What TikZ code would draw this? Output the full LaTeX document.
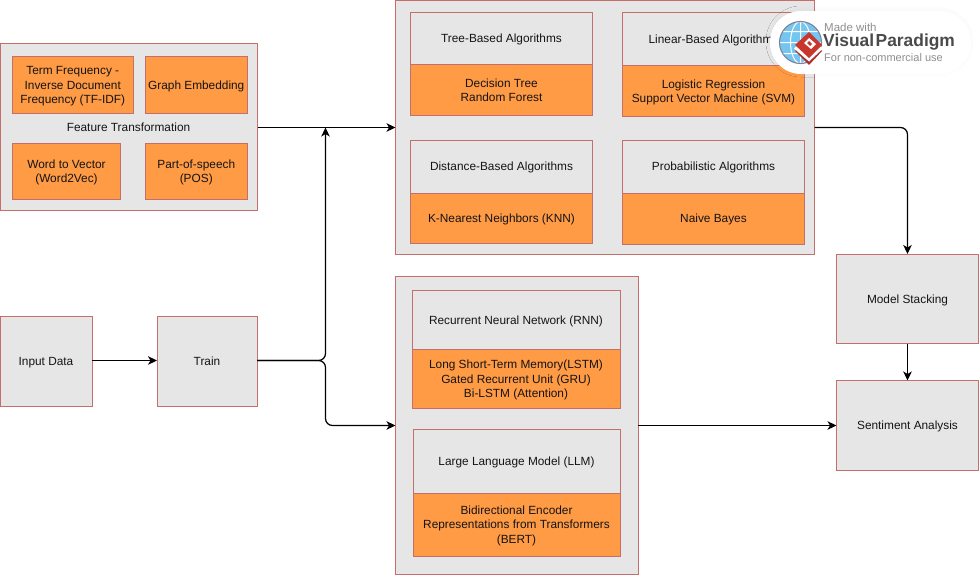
\documentclass[tikz,border=0pt]{standalone}
\usepackage{fontspec}
\setmainfont{Liberation Sans}
\usetikzlibrary{arrows.meta,shadows.blur}
\definecolor{edgered}{HTML}{C46F6B}
\definecolor{fillgrey}{HTML}{E6E6E6}
\definecolor{fillorange}{HTML}{FF9A45}
\definecolor{wmgrey}{HTML}{8F8F8F}
\definecolor{wmdark}{HTML}{4A4A4A}
\definecolor{wmred}{HTML}{C8372D}
\definecolor{wmblue}{HTML}{74C6F0}
\tikzset{
  x=1pt,y=-1pt,
  base/.style={draw=edgered,line width=1pt,anchor=north west,inner sep=0pt,outer sep=0pt,align=center,font=\fontsize{11.85}{14.6}\selectfont,text=black!92},
  greybox/.style={base,fill=fillgrey},
  orangebox/.style={base,fill=fillorange},
  link/.style={draw=black,line width=1.25pt,rounded corners=7pt,-{Stealth[length=9pt,width=8.5pt,inset=2.5pt]}},
  plainlabel/.style={inner sep=0pt,font=\fontsize{11.85}{14.6}\selectfont,text=black!92},
}
\newcommand{\st}{\rule[-2.5pt]{0pt}{13.6pt}}
\newcommand{\bx}[7]{\node[#1,minimum width=#4pt-#3pt,minimum height=#6pt-#5pt] (#2) at (#3,#5) {\st#7\st};}
\begin{document}
\begin{tikzpicture}
\useasboundingbox (0,0) rectangle (980,576);
% groups
\bx{greybox}{feat}{0}{257.5}{43.5}{210.5}{}
\bx{greybox}{classic}{395.5}{814.5}{0}{254}{}
\bx{greybox}{deep}{395.5}{638}{276.5}{574}{}
% feature
\bx{orangebox}{tfidf}{12.5}{133}{56.5}{113}{Term Frequency -\\Inverse Document\\Frequency (TF-IDF)}
\bx{orangebox}{graph}{145.5}{247}{56.5}{113}{Graph Embedding}
\bx{orangebox}{wordvec}{12.5}{120.5}{143}{199.5}{Word to Vector\\(Word2Vec)}
\bx{orangebox}{pos}{145.5}{247}{143}{199.5}{Part-of-speech\\(POS)}
\node[plainlabel] (featlabel) at (128.5,127) {\st Feature Transformation\st};
% input
\bx{greybox}{input}{0}{92}{316}{406}{Input Data}
\bx{greybox}{train}{157}{257}{316}{406}{Train}
% classic
\bx{greybox}{tree}{410.5}{592.5}{12.5}{64.5}{Tree-Based Algorithms}
\bx{orangebox}{treeb}{410.5}{592.5}{64.5}{115.5}{Decision Tree\\Random Forest}
\bx{greybox}{linear}{622.5}{804.5}{12.5}{65.5}{Linear-Based Algorithms}
\bx{orangebox}{linearb}{622.5}{804.5}{65.5}{116.5}{Logistic Regression\\Support Vector Machine (SVM)}
\bx{greybox}{dist}{410.5}{592.5}{140}{193}{Distance-Based Algorithms}
\bx{orangebox}{distb}{410.5}{592.5}{193}{243}{K-Nearest Neighbors (KNN)}
\bx{greybox}{prob}{622.5}{804.5}{140}{193}{Probabilistic Algorithms}
\bx{orangebox}{probb}{622.5}{804.5}{193}{244}{Naive Bayes}
% deep
\bx{greybox}{rnn}{412}{620}{290}{349.5}{Recurrent Neural Network (RNN)}
\bx{orangebox}{rnnb}{412}{620}{349.5}{408}{Long Short-Term Memory(LSTM)\\Gated Recurrent Unit (GRU)\\Bi-LSTM (Attention)}
\bx{greybox}{llm}{413}{620}{429}{493}{Large Language Model (LLM)}
\bx{orangebox}{llmb}{413}{620}{493}{556}{Bidirectional Encoder\\Representations from Transformers\\(BERT)}
% right
\bx{greybox}{stack}{836.5}{978.5}{254}{343.5}{Model Stacking}
\bx{greybox}{senti}{836.5}{978.5}{380.5}{470}{Sentiment Analysis}
% connectors
\coordinate (upend) at (325.5,127.5);
\coordinate (bendup) at (325.5,360.5);
\coordinate (benddown) at (325.5,425.5);
\coordinate (bendright) at (907.5,127.5);
\draw[link] (input.east |- bendup) -- (train.west |- bendup);
\draw[link] (feat.east |- upend) -- (classic.west |- upend);
\draw[link] (train.east |- bendup) -- (bendup) -- (upend);
\draw[link] (train.east |- bendup) -- (bendup) -- (benddown) -- (deep.west |- benddown);
\draw[link] (classic.east |- bendright) -- (bendright) -- (stack.north -| bendright);
\draw[link] (stack.south -| bendright) -- (senti.north -| bendright);
\draw[link] (deep.east |- benddown) -- (senti.west |- benddown);
% watermark
\fill[white,rounded corners=31pt,blur shadow={shadow xshift=0pt,shadow yshift=1pt,shadow blur steps=8,shadow blur radius=4pt,shadow opacity=4}] (770,11) rectangle (971,74);
\fill[wmblue] (800.5,42.5) circle (21);
\draw[white,line width=1pt] (800.5,42.5) circle (10 and 21) (779.5,42.5) -- (821.5,42.5) (783,31.5) -- (818,31.5) (783,53.5) -- (818,53.5) (800.5,21.5) -- (800.5,63.5);
\draw[wmgrey!90!blue,line width=1.1pt] (800.5,42.5) circle (21);
\fill[wmred!85!black] (809,38) -- (822,51) -- (809,65) -- (795,51) -- cycle;
\fill[white] (809,35) -- (823,48.5) -- (809,61.5) -- (794,48.5) -- cycle;
\fill[wmred] (809,32) -- (822,45) -- (809,58) -- (795,45) -- cycle;
\fill[white] (809,38) -- (816,44) -- (811,49) -- (804,43) -- cycle;
\fill[wmred] (809,41) -- (812,44) -- (810,46) -- (807,43) -- cycle;
\node[anchor=west,inner sep=0pt,text=wmgrey,font=\fontsize{11.5}{12}\selectfont] (wm1) at (824,27) {Made with};
\node[anchor=west,inner sep=0pt,text=wmdark,font=\fontsize{17.4}{20}\selectfont\bfseries] (wm2) at (823,42) {Visual\hspace{1.5pt}Paradigm};
\node[anchor=west,inner sep=0pt,text=wmgrey,font=\fontsize{11}{12}\selectfont] (wm3) at (824,57.5) {For non-commercial use};
\end{tikzpicture}
\end{document}
